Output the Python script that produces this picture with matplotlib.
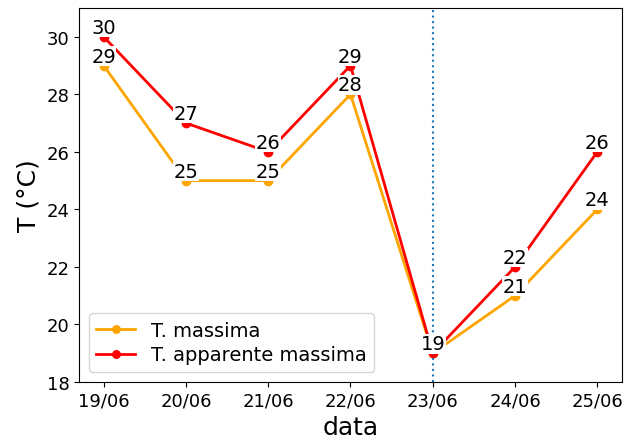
import matplotlib
matplotlib.use("Agg")
import matplotlib.pyplot as plt

dates = ["19/06", "20/06", "21/06", "22/06", "23/06", "24/06", "25/06"]
t_max = [29, 25, 25, 28, 19, 21, 24]
t_app = [30, 27, 26, 29, 19, 22, 26]
vline_date = "23/06"

fig = plt.figure(figsize=(6.35, 4.39), dpi=100)
ax = fig.add_axes([0.1244, 0.1276, 0.8551, 0.8519])

x = list(range(len(dates)))
ax.plot(x, t_max, color="orange", marker="o", markersize=6, linewidth=2, label="T. massima")
ax.plot(x, t_app, color="red", marker="o", markersize=6, linewidth=2, label="T. apparente massima")

for xi, v in zip(x, t_max):
    ax.text(xi, v, str(v), ha="center", va="bottom", fontsize=14,
            bbox=dict(facecolor="white", edgecolor="none", pad=0.3))
for xi, v in zip(x, t_app):
    ax.text(xi, v, str(v), ha="center", va="bottom", fontsize=14,
            bbox=dict(facecolor="white", edgecolor="none", pad=0.3))

ax.axvline(dates.index(vline_date), color="tab:blue", linestyle=":", linewidth=1.5)

ax.set_xticks(x)
ax.set_xticklabels(dates)
ax.set_ylim(18, 31)
ax.set_yticks([18, 20, 22, 24, 26, 28, 30])
ax.tick_params(labelsize=13)
ax.set_xlabel("data", fontsize=18)
ax.set_ylabel("T (°C)", fontsize=18)
ax.legend(loc="lower left", fontsize=14, labelspacing=0.3, markerscale=0.9)

fig.savefig("out.png", dpi=100)
